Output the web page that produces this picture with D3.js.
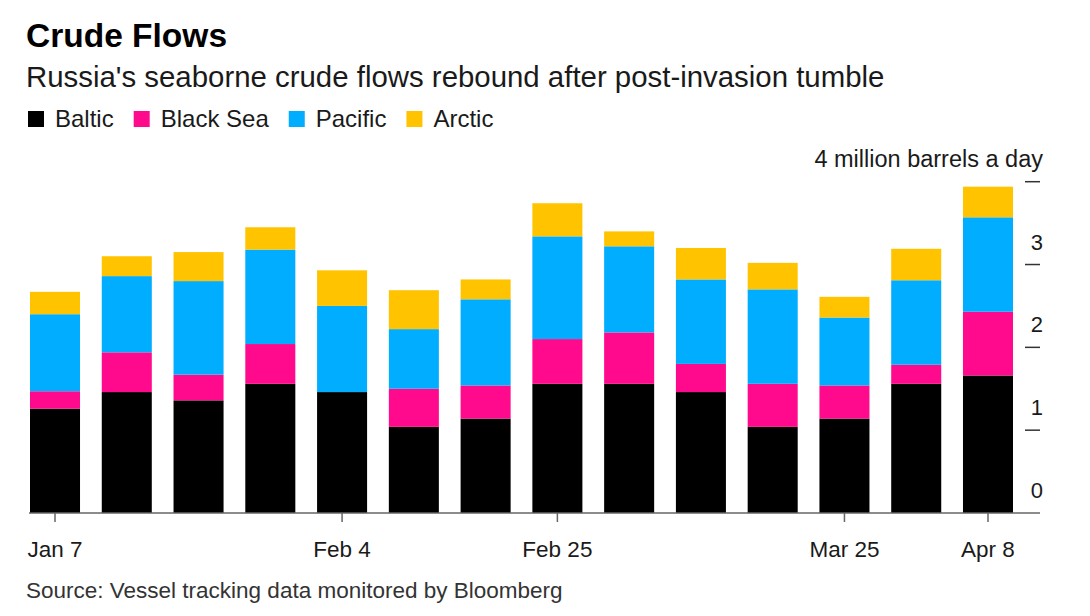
<!DOCTYPE html>
<html>
<head>
<meta charset="utf-8">
<script src="https://cdn.jsdelivr.net/npm/d3@7"></script>
<style>
  body { margin: 0; background: #fff; }
  svg { display: block; font-family: "Liberation Sans", Arial, Helvetica, sans-serif; }
</style>
</head>
<body>
<div id="chart"></div>
<script>

// data (million barrels a day)

var weeks = ["Jan 7", "Jan 14", "Jan 21", "Jan 28", "Feb 4", "Feb 11", "Feb 18",
             "Feb 25", "Mar 4", "Mar 11", "Mar 18", "Mar 25", "Apr 1", "Apr 8"];

var baltic   = [1.26, 1.46, 1.36, 1.56, 1.46, 1.04, 1.14, 1.56, 1.56, 1.46, 1.04, 1.14, 1.56, 1.66];
var blackSea = [0.21, 0.48, 0.31, 0.48, 0.00, 0.46, 0.40, 0.54, 0.62, 0.34, 0.52, 0.40, 0.23, 0.77];
var pacific  = [0.93, 0.92, 1.13, 1.14, 1.04, 0.72, 1.04, 1.24, 1.04, 1.02, 1.14, 0.82, 1.02, 1.14];
var arctic   = [0.27, 0.24, 0.35, 0.27, 0.43, 0.47, 0.24, 0.40, 0.18, 0.38, 0.32, 0.25, 0.38, 0.37];

var seriesNames = ["Baltic", "Black Sea", "Pacific", "Arctic"];
var xTickLabels = ["Jan 7", "Feb 4", "Feb 25", "Mar 25", "Apr 8"];
var yTickValues = [0, 1, 2, 3, 4];

var colors = ["#000000", "#ff0a8c", "#00adff", "#ffc300"];

// build rows for the stack

var rows = weeks.map(function(w, i) {
  return { week: w, "Baltic": baltic[i], "Black Sea": blackSea[i], "Pacific": pacific[i], "Arctic": arctic[i] };
});

var width = 1090,
    height = 616,
    plotLeft = 30,
    plotRight = 1013,
    axisRight = 1040,
    baseY = 513,
    topY = 181.7;

var svg = d3.select("#chart").append("svg")
  .attr("width", width)
  .attr("height", height);

// scales

var x = d3.scaleBand()
  .domain(weeks)
  .range([plotLeft, plotRight])
  .paddingInner(0.303)
  .paddingOuter(0);

var y = d3.scaleLinear()
  .domain([0, 4])
  .range([baseY, topY]);

var color = d3.scaleOrdinal()
  .domain(seriesNames)
  .range(colors);

// headline

svg.append("text")
  .attr("x", 26)
  .attr("y", 47)
  .attr("font-size", 33.5)
  .attr("font-weight", "bold")
  .attr("fill", "#000")
  .text("Crude Flows");

svg.append("text")
  .attr("x", 26)
  .attr("y", 87)
  .attr("font-size", 29.4)
  .attr("fill", "#1a1a1a")
  .text("Russia's seaborne crude flows rebound after post-invasion tumble");

// legend

var legend = svg.append("g").attr("class", "legend");
var lx = 28;
seriesNames.forEach(function(name) {
  var item = legend.append("g").attr("transform", "translate(" + lx + ",0)");
  item.append("rect")
    .attr("x", 0)
    .attr("y", 111)
    .attr("width", 16)
    .attr("height", 16)
    .attr("fill", color(name));
  var t = item.append("text")
    .attr("x", 27)
    .attr("y", 127)
    .attr("font-size", 24)
    .attr("fill", "#1a1a1a")
    .text(name);
  lx += 27 + t.node().getComputedTextLength() + 20;
});

// stacked bars

var stack = d3.stack().keys(seriesNames);

svg.append("g")
  .selectAll("g")
  .data(stack(rows))
  .enter()
    .append("g")
      .attr("fill", function(d) { return color(d.key); })
    .selectAll("rect")
    .data(function(d) { return d; })
    .enter()
      .append("rect")
        .attr("x", function(d) { return x(d.data.week); })
        .attr("y", function(d) { return y(d[1]); })
        .attr("width", x.bandwidth())
        .attr("height", function(d) { return y(d[0]) - y(d[1]); });

// x axis

var xAxis = d3.axisBottom(x)
  .tickValues(xTickLabels)
  .tickSize(9)
  .tickPadding(19)
  .tickSizeOuter(0);

var gx = svg.append("g")
  .attr("transform", "translate(0," + baseY + ")")
  .call(xAxis);

gx.select(".domain").remove();
gx.selectAll(".tick line").attr("stroke", "#666").attr("stroke-width", 1.5);
gx.selectAll(".tick text")
  .attr("font-size", 22.5)
  .attr("fill", "#1a1a1a")
  .attr("font-family", null);

svg.append("line")
  .attr("x1", plotLeft - 1)
  .attr("x2", axisRight)
  .attr("y1", y(0))
  .attr("y2", y(0))
  .attr("stroke", "#666")
  .attr("stroke-width", 1.5);

// y axis on the right, labels sit above their tick marks

var gy = svg.append("g").attr("class", "y-axis");

gy.selectAll("line")
  .data(yTickValues.slice(1))
  .enter()
    .append("line")
      .attr("x1", axisRight - 15)
      .attr("x2", axisRight)
      .attr("y1", function(d) { return y(d); })
      .attr("y2", function(d) { return y(d); })
      .attr("stroke", "#333")
      .attr("stroke-width", 1.5);

gy.selectAll("text")
  .data(yTickValues)
  .enter()
    .append("text")
      .attr("x", axisRight + 3)
      .attr("y", function(d) { return y(d) - 15; })
      .attr("text-anchor", "end")
      .attr("font-size", function(d) { return d === 4 ? 23.5 : 22; })
      .attr("fill", "#1a1a1a")
      .text(function(d) { return d === 4 ? "4 million barrels a day" : d; });

// source

svg.append("text")
  .attr("x", 26)
  .attr("y", 598)
  .attr("font-size", 22.5)
  .attr("fill", "#333")
  .text("Source: Vessel tracking data monitored by Bloomberg");

</script>
</body>
</html>
